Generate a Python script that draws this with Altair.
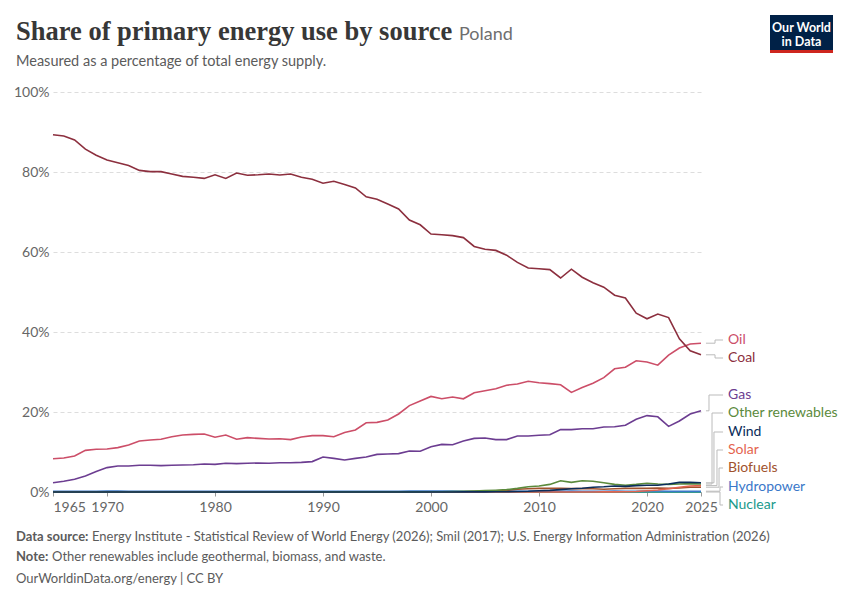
import altair as alt
import pandas as pd

years = list(range(1965, 2026))

coal = [89.3, 89.0, 88.0, 85.7, 84.2, 83.0, 82.3, 81.6, 80.4, 80.1,
        80.1, 79.5, 78.9, 78.7, 78.4, 79.3, 78.4, 79.75, 79.2, 79.3,
        79.5, 79.25, 79.5, 78.7, 78.2, 77.2, 77.7, 76.9, 76.0, 73.8,
        73.2, 72.0, 70.75, 68.0, 66.8, 64.5, 64.3, 64.1, 63.6, 61.4,
        60.7, 60.4, 59.2, 57.4, 56.0, 55.8, 55.6, 53.5, 55.7, 53.7,
        52.3, 51.2, 49.2, 48.5, 44.7, 43.3, 44.5, 43.6, 38.3, 35.3,
        34.3]
oil = [8.3, 8.5, 9.0, 10.4, 10.7, 10.75, 11.1, 11.75, 12.75, 13.0,
       13.2, 13.8, 14.25, 14.4, 14.5, 13.7, 14.25, 13.2, 13.6, 13.4,
       13.25, 13.3, 13.1, 13.75, 14.1, 14.1, 13.8, 14.9, 15.5, 17.3,
       17.4, 18.0, 19.5, 21.6, 22.75, 23.9, 23.3, 23.75, 23.3, 24.8,
       25.3, 25.8, 26.7, 27.0, 27.7, 27.3, 27.1, 26.8, 24.9, 26.1,
       27.2, 28.6, 30.8, 31.2, 32.8, 32.5, 31.7, 34.2, 36.0, 37.0,
       37.2]
gas = [2.3, 2.7, 3.2, 4.0, 5.1, 6.1, 6.5, 6.5, 6.7, 6.7,
       6.6, 6.7, 6.75, 6.8, 7.0, 6.9, 7.2, 7.1, 7.2, 7.25,
       7.2, 7.3, 7.3, 7.4, 7.6, 8.75, 8.4, 8.0, 8.4, 8.75,
       9.4, 9.5, 9.6, 10.25, 10.2, 11.3, 11.9, 11.8, 12.75, 13.4,
       13.5, 13.1, 13.1, 14.0, 14.0, 14.2, 14.3, 15.6, 15.6, 15.8,
       15.8, 16.25, 16.3, 16.7, 18.2, 19.1, 18.8, 16.4, 17.75, 19.5,
       20.3]
other_renewables = [0.0, 0.0, 0.0, 0.0, 0.0, 0.0, 0.0, 0.0, 0.0, 0.0,
                    0.0, 0.0, 0.0, 0.0, 0.0, 0.0, 0.0, 0.0, 0.0, 0.0,
                    0.0, 0.0, 0.0, 0.0, 0.0, 0.02, 0.02, 0.02, 0.02, 0.02,
                    0.02, 0.03, 0.03, 0.03, 0.04, 0.05, 0.06, 0.1, 0.15, 0.25,
                    0.35, 0.45, 0.6, 0.9, 1.3, 1.5, 1.9, 2.8, 2.4, 2.8,
                    2.7, 2.3, 1.9, 1.7, 1.9, 2.2, 2.0, 1.9, 2.0, 2.1,
                    2.0]
wind = [0.0, 0.0, 0.0, 0.0, 0.0, 0.0, 0.0, 0.0, 0.0, 0.0,
        0.0, 0.0, 0.0, 0.0, 0.0, 0.0, 0.0, 0.0, 0.0, 0.0,
        0.0, 0.0, 0.0, 0.0, 0.0, 0.0, 0.0, 0.0, 0.0, 0.0,
        0.0, 0.0, 0.0, 0.0, 0.0, 0.0, 0.0, 0.01, 0.02, 0.02,
        0.03, 0.05, 0.08, 0.12, 0.18, 0.3, 0.4, 0.6, 0.8, 0.95,
        1.2, 1.3, 1.5, 1.4, 1.6, 1.7, 1.7, 2.0, 2.4, 2.4,
        2.3]
solar = [0.0, 0.0, 0.0, 0.0, 0.0, 0.0, 0.0, 0.0, 0.0, 0.0,
         0.0, 0.0, 0.0, 0.0, 0.0, 0.0, 0.0, 0.0, 0.0, 0.0,
         0.0, 0.0, 0.0, 0.0, 0.0, 0.0, 0.0, 0.0, 0.0, 0.0,
         0.0, 0.0, 0.0, 0.0, 0.0, 0.0, 0.0, 0.0, 0.0, 0.0,
         0.0, 0.0, 0.0, 0.0, 0.0, 0.0, 0.0, 0.0, 0.0, 0.0,
         0.01, 0.02, 0.03, 0.05, 0.12, 0.3, 0.5, 0.8, 1.2, 1.5,
         1.6]
biofuels = [0.0, 0.0, 0.0, 0.0, 0.0, 0.0, 0.0, 0.0, 0.0, 0.0,
            0.0, 0.0, 0.0, 0.0, 0.0, 0.0, 0.0, 0.0, 0.0, 0.0,
            0.0, 0.0, 0.0, 0.0, 0.0, 0.0, 0.0, 0.0, 0.0, 0.0,
            0.0, 0.0, 0.0, 0.0, 0.0, 0.0, 0.0, 0.0, 0.05, 0.1,
            0.2, 0.3, 0.4, 0.7, 0.8, 0.9, 0.9, 0.9, 0.85, 0.85,
            0.8, 0.7, 0.8, 0.9, 0.9, 0.9, 1.0, 0.9, 1.0, 1.2,
            1.2]
hydropower = [0.2, 0.2, 0.2, 0.2, 0.2, 0.25, 0.25, 0.2, 0.2, 0.2,
              0.2, 0.2, 0.2, 0.2, 0.2, 0.2, 0.15, 0.15, 0.2, 0.15,
              0.15, 0.15, 0.15, 0.15, 0.15, 0.15, 0.15, 0.15, 0.15, 0.2,
              0.2, 0.2, 0.2, 0.25, 0.25, 0.25, 0.25, 0.25, 0.2, 0.2,
              0.2, 0.2, 0.2, 0.2, 0.2, 0.25, 0.2, 0.2, 0.25, 0.2,
              0.2, 0.2, 0.25, 0.2, 0.2, 0.25, 0.25, 0.2, 0.2, 0.2,
              0.2]
nuclear = [0.0] * 61

series_names = ["Oil", "Coal", "Gas", "Other renewables", "Wind", "Solar",
                "Biofuels", "Hydropower", "Nuclear"]
series_values = [oil, coal, gas, other_renewables, wind, solar, biofuels,
                 hydropower, nuclear]
series_colors = ["#cc4e68", "#8c2f3e", "#6c3d91", "#5b8a3c", "#0b2d5b",
                 "#e4644f", "#a0522d", "#3a78c9", "#1a9a8c"]

# label layout (in axis units): label vertical position, connector elbow year
label_pos = [38.0, 33.5, 24.25, 19.75, 15.0, 10.5, 6.0, 1.25, -3.25]
elbow_year = [2026.3, 2026.3, 2025.74, 2026.02, 2026.2, 2026.48, 2026.67, 2026.76, 2026.76]
conn_start = 2025.46
conn_end = 2027.04
label_x = 2027.5

rows = []
for name, vals in zip(series_names, series_values):
    for y, v in zip(years, vals):
        rows.append({"year": y, "value": v, "series": name})
df = pd.DataFrame(rows)

ends = pd.DataFrame({
    "series": series_names,
    "end": [v[-1] for v in series_values],
    "lab": label_pos,
    "mid": elbow_year,
    "start": [conn_start] * 9,
    "stop": [conn_end] * 9,
    "lx": [label_x] * 9,
    "color": series_colors,
})

W, H = 648, 400
FONT = "Lato"

xscale = alt.Scale(domain=[1965, 2025], nice=False, zero=False)
yscale = alt.Scale(domain=[0, 100], nice=False)

base_axes = alt.Chart(df).mark_line(opacity=0).encode(
    x=alt.X("year:Q", scale=xscale, title=None,
            axis=alt.Axis(values=[1965, 1970, 1980, 1990, 2000, 2010, 2020, 2025],
                          format="d", grid=False, labelFontSize=14, labelColor="#666",
                          labelFont=FONT, tickColor="#999", tickSize=4, domainColor="#999",
                          labelPadding=4,
                          labelAlign=alt.expr("datum.value == 1965 ? 'left' : 'center'"),
                          labelFlush=False)),
    y=alt.Y("value:Q", scale=yscale, title=None,
            axis=alt.Axis(values=[0, 20, 40, 60, 80, 100], labelExpr="datum.value + '%'",
                          grid=True, gridColor="#dddddd", gridDash=[4, 3], domain=False,
                          ticks=False, labelFontSize=14, labelColor="#666", labelFont=FONT,
                          labelPadding=4)),
)

draw_order = ["Nuclear", "Hydropower", "Biofuels", "Solar", "Other renewables",
              "Wind", "Gas", "Oil", "Coal"]
line_layers = []
for name in draw_order:
    c = series_colors[series_names.index(name)]
    line_layers.append(
        alt.Chart(df).transform_filter(alt.datum.series == name).mark_line(
            color=c, strokeWidth=1.6).encode(
            x=alt.X("year:Q", scale=xscale), y=alt.Y("value:Q", scale=yscale))
    )

conn_color = "#bbbbbb"
h1 = alt.Chart(ends).mark_rule(color=conn_color, strokeWidth=1).encode(
    x=alt.X("start:Q", scale=xscale), x2="mid:Q", y=alt.Y("end:Q", scale=yscale))
v1 = alt.Chart(ends).mark_rule(color=conn_color, strokeWidth=1).encode(
    x=alt.X("mid:Q", scale=xscale), y=alt.Y("end:Q", scale=yscale), y2="lab:Q")
h2 = alt.Chart(ends).mark_rule(color=conn_color, strokeWidth=1).encode(
    x=alt.X("mid:Q", scale=xscale), x2="stop:Q", y=alt.Y("lab:Q", scale=yscale))
labels = alt.Chart(ends).mark_text(align="left", baseline="middle", font=FONT,
                                   fontSize=14).encode(
    x=alt.X("lx:Q", scale=xscale), y=alt.Y("lab:Q", scale=yscale), text="series:N",
    color=alt.Color("color:N", scale=None))

one = alt.Data(values=[{}])


def txt(s, x, y, size, color, weight="normal", font=FONT, align="left"):
    return alt.Chart(one).mark_text(text=s, align=align, baseline="alphabetic",
                                    fontSize=size, color=color, fontWeight=weight,
                                    font=font).encode(x=alt.value(x), y=alt.value(y))


title = txt("Share of primary energy use by source", -37, -52, 26.5, "#373737",
            weight="bold", font="Liberation Serif")
country = txt("Poland", 406, -52, 18, "#6e6e6e")
subtitle = txt("Measured as a percentage of total energy supply.", -37, -26, 14.5, "#5b5b5b")
src_b = txt("Data source:", -37, 449, 13, "#5b5b5b", weight="bold")
src = txt("Energy Institute - Statistical Review of World Energy (2026); Smil (2017); "
          "U.S. Energy Information Administration (2026)", 39, 449, 13, "#5b5b5b")
note_b = txt("Note:", -37, 469, 13, "#5b5b5b", weight="bold")
note = txt("Other renewables include geothermal, biomass, and waste.", -1, 469, 13, "#5b5b5b")
url = txt("OurWorldinData.org/energy | CC BY", -37, 491, 13, "#5b5b5b")

logo_bg = alt.Chart(one).mark_rect(color="#002147").encode(
    x=alt.value(717), x2=alt.value(780), y=alt.value(-77), y2=alt.value(-42))
logo_red = alt.Chart(one).mark_rect(color="#ce261e").encode(
    x=alt.value(717), x2=alt.value(780), y=alt.value(-42), y2=alt.value(-39))
logo_t1 = txt("Our World", 748.5, -60, 12.5, "white", weight="bold", align="center")
logo_t2 = txt("in Data", 748.5, -46, 12.5, "white", weight="bold", align="center")

chart = alt.layer(
    base_axes, *line_layers, h1, v1, h2, labels,
    title, country, subtitle, src_b, src, note_b, note, url,
    logo_bg, logo_red, logo_t1, logo_t2
).properties(
    width=W, height=H,
    autosize=alt.AutoSizeParams(type="none"),
    padding={"left": 45, "top": 84, "right": 140, "bottom": 105},
).configure(background="white").configure_view(stroke=None, strokeWidth=0)

chart.save("out.html", embed_options={"renderer": "svg", "actions": False})
